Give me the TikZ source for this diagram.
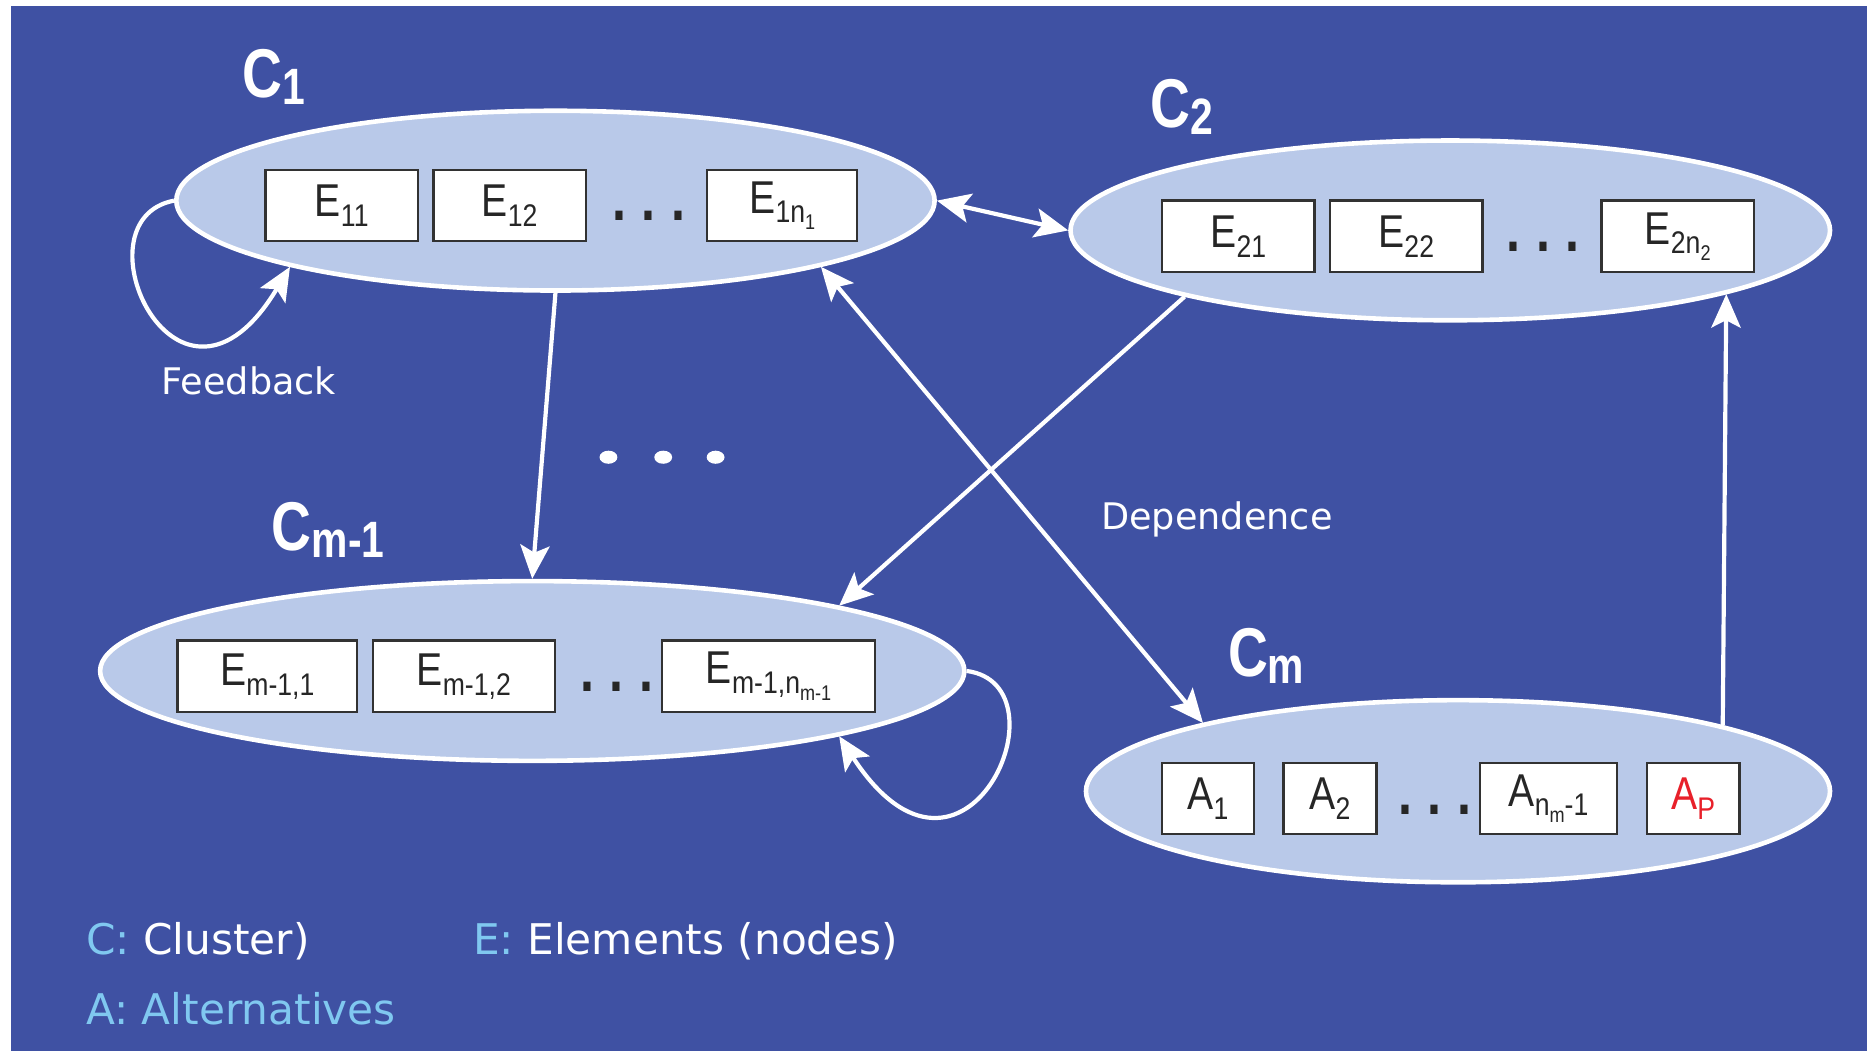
\documentclass[tikz,border=0pt]{standalone}
\usepackage{fontspec}
\usepackage{graphicx}
\usetikzlibrary{shapes.geometric,arrows.meta}
\setmainfont{DejaVu Sans}
\newfontfamily\boxfont[FakeStretch=0.85]{Liberation Sans}
\newfontfamily\clufont[FakeStretch=0.8]{Liberation Sans}
\definecolor{bgblue}{RGB}{63,81,163}
\definecolor{clufill}{RGB}{185,201,233}
\definecolor{keyblue}{RGB}{128,200,240}
\definecolor{altred}{RGB}{232,32,42}
\definecolor{boxline}{RGB}{50,50,50}
\newcommand\lo[1]{\raisebox{-0.4ex}{\scalebox{0.68}{#1}}}
\newcommand\clo[1]{\raisebox{-0.2ex}{\scalebox{0.74}{#1}}}
\newcommand\rowdots{.\hspace{7.5pt}.\hspace{7.5pt}.}

\tikzset{
  head/.tip={Stealth[length=16pt,width=14pt,inset=3.5pt]},
  cluster/.style={shape=ellipse, draw=white, line width=2.2pt, fill=clufill,
    inner sep=0pt, minimum height=3.02cm},
  elem/.style={shape=rectangle, draw=boxline, line width=1.1pt, fill=white,
    inner sep=0pt, minimum height=1.2cm, text=black!85,
    font=\boxfont\fontsize{22}{26}\selectfont},
  clabel/.style={anchor=base west, inner sep=0pt, text=white,
    font=\clufont\bfseries\fontsize{33}{38}\selectfont},
  rowdot/.style={anchor=base, inner sep=0pt, text=black!85,
    font=\clufont\bfseries\fontsize{30}{30}\selectfont},
  note/.style={anchor=base, inner sep=0pt, text=white,
    font=\fontsize{17.5}{20}\selectfont},
  key/.style={anchor=base west, inner sep=0pt, text=white,
    font=\fontsize{20.2}{24}\selectfont},
  arr/.style={white, line width=2pt}
}

\begin{document}
\begin{tikzpicture}[x=0.02cm,y=-0.02cm]
\useasboundingbox (0,0) rectangle (1568,883);
\fill[bgblue] (9.2,5) rectangle (1568,883);

% clusters
\node(c1) at (466.5,168.5)[cluster, minimum width=12.74cm]  {};
\node(c2) at (1218,193.5)[cluster, minimum width=12.76cm]   {};
\node(cm1) at (447,563.5)[cluster, minimum width=14.52cm]   {};
\node(cm) at (1224.5,664.5)[cluster, minimum width=12.5cm, minimum height=3.06cm] {};

\node(l1) at (203,82)[clabel]   {C\clo{1}};
\node(l2) at (966,107)[clabel]  {C\clo{2}};
\node(lm1) at (228,462)[clabel] {C\clo{m-1}};
\node(lm) at (1031,568)[clabel] {C\clo{m}};

% elements
\node(e11) at (287,172.5)[elem, minimum width=2.56cm]   {E\lo{11}};
\node(e12) at (428,172.5)[elem, minimum width=2.56cm]   {E\lo{12}};
\node(d1) at (545,185)[rowdot]                          {\rowdots};
\node(e1n) at (657,172.5)[elem, minimum width=2.52cm]   {E\lo{1n\lo{1}}};

\node(e21) at (1040,198.5)[elem, minimum width=2.56cm]  {E\lo{21}};
\node(e22) at (1181,198.5)[elem, minimum width=2.56cm]  {E\lo{22}};
\node(d2) at (1296,211)[rowdot]                         {\rowdots};
\node(e2n) at (1409,198.5)[elem, minimum width=2.56cm]  {E\lo{2n\lo{2}}};

\node(em11) at (224.5,568)[elem, minimum width=3.02cm]  {E\lo{m-1,1}};
\node(em12) at (389.5,568)[elem, minimum width=3.06cm]  {E\lo{m-1,2}};
\node(d3) at (518,581)[rowdot]                          {\rowdots};
\node(em1n) at (645.5,568)[elem, minimum width=3.58cm]  {E\lo{m-1,n\lo{m-1}}};

% alternatives
\node(a1) at (1014.5,670.5)[elem, minimum width=1.54cm] {A\lo{1}};
\node(a2) at (1117,670.5)[elem, minimum width=1.56cm]   {A\lo{2}};
\node(d4) at (1205,684)[rowdot]                         {\rowdots};
\node(anm) at (1300.5,670.5)[elem, minimum width=2.3cm] {A\lo{n\lo{m}-1}};
\node(ap) at (1422,670.5)[elem, minimum width=1.56cm, text=altred] {A\lo{P}};

% more clusters
\foreach \x in {511,557,601}
  \fill[white] (\x,384) ellipse [x radius=0.15cm, y radius=0.11cm];

\node(fb) at (209,331)[note]     {Feedback};
\node(dep) at (1022,444.5)[note] {Dependence};

\path [arr, -head]
  (c1.east)    edge [head-head]  (c2.west)
  (c1.south)   edge              (cm1.north)
  (c1.-14)     edge [head-head]  (cm.165)
  (c2.194)     edge              (cm1.12.5)
  (cm.14)      edge              (c2.-13.4);

\draw [arr, -head] (c1.west) .. controls (60,185) and (150,380) .. (c1.194);
\draw [arr, -head] (cm1.east) .. controls (900,575) and (810,780) .. (cm1.-12.5);

% legend
\node(kc) at (72,802)[key]  {\textcolor{keyblue}{C:} Cluster)};
\node(ke) at (397,802)[key] {\textcolor{keyblue}{E:} Elements (nodes)};
\node(ka) at (72,860)[key, text=keyblue] {A: Alternatives};

\end{tikzpicture}
\end{document}
